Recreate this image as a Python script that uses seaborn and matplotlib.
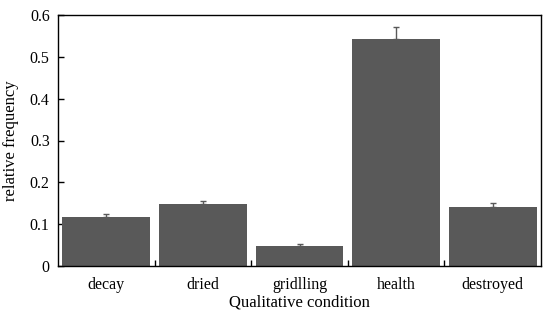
import matplotlib
matplotlib.use("Agg")
import matplotlib.pyplot as plt
import seaborn as sns
import pandas as pd
from matplotlib.ticker import FuncFormatter, FixedLocator

categories = ["decay", "dried", "gridlling", "health", "destroyed"]
values = [0.118, 0.148, 0.048, 0.543, 0.141]
errors = [0.006, 0.008, 0.004, 0.028, 0.009]

sns.set_theme(style="white")
plt.rcParams["font.family"] = ["Liberation Serif", "DejaVu Serif"]

df = pd.DataFrame({"condition": categories, "freq": values})

fig = plt.figure(figsize=(5.49, 3.23), dpi=100)
ax = fig.add_axes([58/549, 1-266/323, (541-58)/549, (266-15)/323])

sns.barplot(data=df, x="condition", y="freq", color="#595959", saturation=1,
            width=0.91, errorbar=None, linewidth=0, ax=ax)
xs = [p.get_x() + p.get_width()/2 for p in ax.patches]
ax.errorbar(xs, values, yerr=[[0]*len(errors), errors], fmt="none",
            ecolor="#595959", elinewidth=1, capsize=2.5, capthick=1)

ax.set_xlim(-0.5, len(categories)-0.5)
ax.set_ylim(0, 0.6)
ax.yaxis.set_major_locator(FixedLocator([0, 0.1, 0.2, 0.3, 0.4, 0.5, 0.6]))
ax.yaxis.set_major_formatter(FuncFormatter(lambda v, p: "%g" % round(v, 2)))
ax.set_xticks(range(len(categories)))
ax.set_xticklabels(categories)
ax.set_xticks([i + 0.5 for i in range(len(categories)-1)], minor=True)
ax.tick_params(axis="x", which="major", length=0, labelsize=11.5, pad=8, colors="black")
ax.tick_params(axis="x", which="minor", direction="in", length=4, width=1, color="black", bottom=True)
ax.tick_params(axis="y", which="major", direction="in", length=4, width=1, color="black", left=True, labelsize=11.5, labelcolor="black", pad=6)
for s in ax.spines.values():
    s.set_visible(True)
    s.set_color("black")
    s.set_linewidth(1)

ax.set_xlabel("Qualitative condition", fontsize=12, color="black", labelpad=1)
ax.set_ylabel("relative frequency", fontsize=12, color="black", labelpad=8)

fig.savefig("out.png", dpi=100)
